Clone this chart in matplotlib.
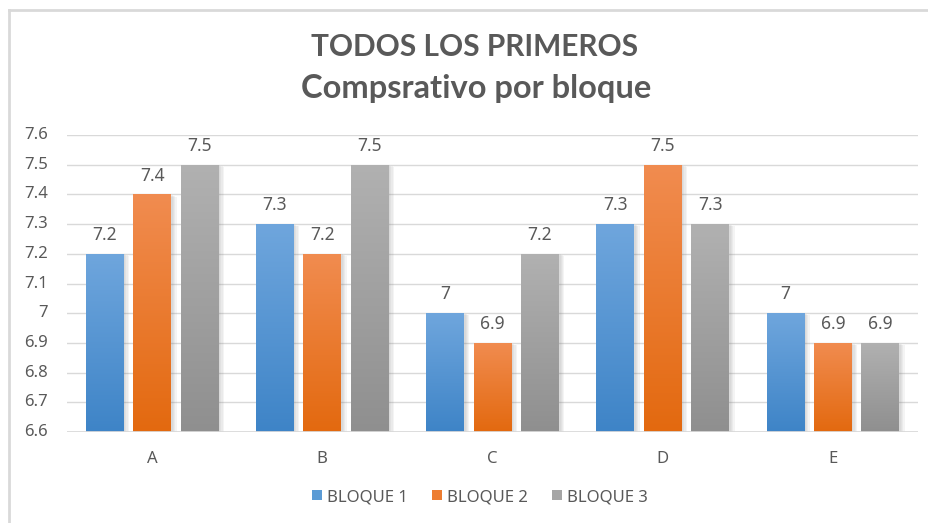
import numpy as np
import matplotlib
matplotlib.use("Agg")
import matplotlib.pyplot as plt
from matplotlib.patches import Rectangle
from matplotlib.lines import Line2D
import matplotlib.patheffects as pe
from matplotlib.colors import to_rgb

plt.rcParams["font.family"] = ["Noto Sans", "DejaVu Sans"]

categories = ["A", "B", "C", "D", "E"]
series_names = ["BLOQUE 1", "BLOQUE 2", "BLOQUE 3"]
bloque1 = [7.2, 7.3, 7.0, 7.3, 7.0]
bloque2 = [7.4, 7.2, 6.9, 7.5, 6.9]
bloque3 = [7.5, 7.5, 7.2, 7.3, 6.9]
value_labels = [["7.2", "7.3", "7", "7.3", "7"],
                ["7.4", "7.2", "6.9", "7.5", "6.9"],
                ["7.5", "7.5", "7.2", "7.3", "6.9"]]
yticks = [6.6, 6.7, 6.8, 6.9, 7.0, 7.1, 7.2, 7.3, 7.4, 7.5, 7.6]
ytick_labels = ["6.6", "6.7", "6.8", "6.9", "7", "7.1", "7.2", "7.3", "7.4", "7.5", "7.6"]
title1 = "TODOS LOS PRIMEROS"
title2 = "Compsrativo por bloque"

series = [bloque1, bloque2, bloque3]
top_cols = ["#6fa6dd", "#f18c50", "#b1b1b1"]
bot_cols = ["#3e84c7", "#e3690f", "#8f8f8f"]
mid_cols = ["#5b9bd5", "#ed7d31", "#a5a5a5"]

text_col = "#595959"
grid_col = "#d9d9d9"

fig = plt.figure(figsize=(9.29, 5.23), dpi=100)
fig.patch.set_facecolor("white")

# outer border
fig.add_artist(Line2D([9/929, 9/929], [0, 1 - 9.5/523], transform=fig.transFigure,
                      color=grid_col, lw=2))
fig.add_artist(Line2D([9/929, 1], [1 - 9.5/523, 1 - 9.5/523], transform=fig.transFigure,
                      color=grid_col, lw=2))

ax_w_px = 918 - 67
ax = fig.add_axes([67/929, 1 - 432/523, ax_w_px/929, (432 - 135)/523])
ymin, ymax = 6.6, 7.6
ax.set_xlim(-0.5, len(categories) - 0.5)
ax.set_ylim(ymin, ymax)

for s in ax.spines.values():
    s.set_visible(False)
for y in yticks[1:]:
    ax.axhline(y, color=grid_col, lw=1, zorder=0)
ax.axhline(ymin, color=grid_col, lw=2, zorder=5)

ax.set_yticks(yticks)
ax.set_yticklabels([])
ax.set_xticks(range(len(categories)))
ax.set_xticklabels(categories)
ax.tick_params(axis="both", length=0, colors=text_col, labelsize=12)
ax.tick_params(axis="x", pad=14)

ytrans = ax.get_yaxis_transform()
for y, lab in zip(yticks, ytick_labels):
    ax.text(-19/ax_w_px, y, lab, transform=ytrans, ha="right", va="center",
            fontsize=12, color=text_col, clip_on=False)

width = 0.222
offset = 0.279
shadow_fx = [pe.SimplePatchShadow(offset=(o, -o * 0.4), alpha=0.07, shadow_rgbFace="#707070")
             for o in (4.0, 3.0, 2.0, 1.2)]
for si, vals in enumerate(series):
    t = np.array(to_rgb(top_cols[si]))
    b = np.array(to_rgb(bot_cols[si]))
    grad = np.linspace(0, 1, 256)[:, None, None]
    img = t * (1 - grad) + b * grad
    for ci, v in enumerate(vals):
        x0 = ci + (si - 1) * offset - width / 2
        rect = Rectangle((x0, ymin), width, v - ymin, facecolor=mid_cols[si],
                         edgecolor="none", zorder=2,
                         path_effects=shadow_fx + [pe.Normal()])
        ax.add_patch(rect)
        im = ax.imshow(img, extent=[x0, x0 + width, ymin, v], aspect="auto",
                       origin="upper", zorder=3, interpolation="bilinear")
        im.set_clip_path(rect)
        ax.annotate(value_labels[si][ci], (x0 + width / 2, v), xytext=(0, 10),
                    textcoords="offset points", ha="center", va="baseline",
                    fontsize=12.5, color=text_col, zorder=6)

ax.set_xlim(-0.5, len(categories) - 0.5)
ax.set_ylim(ymin, ymax)

fig.text(475/929, 1 - 47/523, title1, ha="center", va="center", fontsize=21.5,
         fontweight="bold", color=text_col, family="Lato")
fig.text(476/929, 1 - 88/523, title2, ha="center", va="center", fontsize=23.5,
         fontweight="bold", color=text_col, family="Lato")

handles = [Rectangle((0, 0), 1, 1, facecolor=c) for c in mid_cols]
fig.legend(handles, series_names, loc="center", bbox_to_anchor=(480/929, 1 - 497/523),
           ncol=3, frameon=False, fontsize=12, labelcolor=text_col,
           handlelength=0.6, handleheight=0.6, handletextpad=0.3, columnspacing=1.45)

fig.savefig("out.png", dpi=100, facecolor="white")
